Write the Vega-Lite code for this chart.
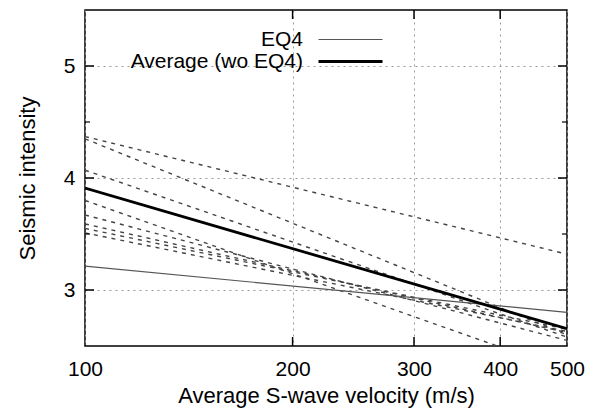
{
  "$schema": "https://vega.github.io/schema/vega-lite/v6.json",
  "autosize": {"type": "none"},
  "width": 482,
  "height": 336,
  "padding": {"left": 85, "top": 10, "right": 31, "bottom": 67},
  "background": "white",
  "config": {
    "font": "Liberation Sans",
    "view": {"stroke": "#000", "strokeWidth": 1.5},
    "axis": {
      "labelFont": "Liberation Sans",
      "titleFont": "Liberation Sans",
      "labelFontSize": 21,
      "titleFontSize": 22,
      "titleFontWeight": "normal",
      "labelColor": "#000",
      "titleColor": "#000",
      "domain": false,
      "ticks": false,
      "gridColor": "#999",
      "gridDash": [2, 4],
      "gridWidth": 1
    }
  },
  "datasets": {
    "dashed": [
      {"run": "D1", "vs": 100, "intensity": 4.37},
      {"run": "D1", "vs": 500, "intensity": 3.32},
      {"run": "D2", "vs": 100, "intensity": 4.35},
      {"run": "D2", "vs": 500, "intensity": 2.6},
      {"run": "D3", "vs": 100, "intensity": 4.07},
      {"run": "D3", "vs": 500, "intensity": 2.58},
      {"run": "D4", "vs": 100, "intensity": 3.8},
      {"run": "D4", "vs": 500, "intensity": 2.28},
      {"run": "D5", "vs": 100, "intensity": 3.67},
      {"run": "D5", "vs": 500, "intensity": 2.55},
      {"run": "D6", "vs": 100, "intensity": 3.59},
      {"run": "D6", "vs": 500, "intensity": 2.62},
      {"run": "D7", "vs": 100, "intensity": 3.55},
      {"run": "D7", "vs": 500, "intensity": 2.65},
      {"run": "D8", "vs": 100, "intensity": 3.51},
      {"run": "D8", "vs": 500, "intensity": 2.63}
    ],
    "main": [
      {"series": "EQ4", "vs": 100, "intensity": 3.214},
      {"series": "EQ4", "vs": 500, "intensity": 2.8},
      {"series": "Average (wo EQ4)", "vs": 100, "intensity": 3.91},
      {"series": "Average (wo EQ4)", "vs": 500, "intensity": 2.655}
    ],
    "xticks": [{"vs": 200}, {"vs": 300}, {"vs": 400}],
    "yticks": [{"intensity": 3}, {"intensity": 4}, {"intensity": 5}],
    "yminor": [{"intensity": 3.5}, {"intensity": 4.5}]
  },
  "layer": [
    {
      "data": {"name": "dashed"},
      "mark": {"type": "line", "clip": true, "strokeDash": [4, 5], "strokeWidth": 1.4, "color": "#444"},
      "encoding": {
        "x": {
          "field": "vs", "type": "quantitative",
          "scale": {"type": "log", "domain": [100, 500], "nice": false},
          "axis": {"values": [100, 200, 300, 400, 500], "format": "d", "grid": true, "title": "Average S-wave velocity (m/s)", "labelPadding": 12, "titlePadding": 6, "labelFlush": false}
        },
        "y": {
          "field": "intensity", "type": "quantitative",
          "scale": {"domain": [2.5, 5.5], "nice": false, "zero": false},
          "axis": {"values": [3, 4, 5], "format": "d", "grid": true, "title": "Seismic intensity", "labelPadding": 10, "titlePadding": 24}
        },
        "detail": {"field": "run"}
      }
    },
    {
      "data": {"name": "xticks"},
      "mark": {"type": "tick", "orient": "vertical", "clip": true, "color": "#000", "size": 18, "thickness": 1.5, "opacity": 1},
      "encoding": {
        "x": {"field": "vs", "type": "quantitative"},
        "y": {"datum": 2.5, "type": "quantitative"}
      }
    },
    {
      "data": {"name": "xticks"},
      "mark": {"type": "tick", "orient": "vertical", "clip": true, "color": "#000", "size": 18, "thickness": 1.5, "opacity": 1},
      "encoding": {
        "x": {"field": "vs", "type": "quantitative"},
        "y": {"datum": 5.5, "type": "quantitative"}
      }
    },
    {
      "data": {"name": "yticks"},
      "mark": {"type": "tick", "orient": "horizontal", "clip": true, "color": "#000", "size": 18, "thickness": 1.5, "opacity": 1},
      "encoding": {
        "y": {"field": "intensity", "type": "quantitative"},
        "x": {"datum": 100, "type": "quantitative"}
      }
    },
    {
      "data": {"name": "yticks"},
      "mark": {"type": "tick", "orient": "horizontal", "clip": true, "color": "#000", "size": 18, "thickness": 1.5, "opacity": 1},
      "encoding": {
        "y": {"field": "intensity", "type": "quantitative"},
        "x": {"datum": 500, "type": "quantitative"}
      }
    },
    {
      "data": {"name": "yminor"},
      "mark": {"type": "tick", "orient": "horizontal", "clip": true, "color": "#000", "size": 10, "thickness": 1.2, "opacity": 1},
      "encoding": {
        "y": {"field": "intensity", "type": "quantitative"},
        "x": {"datum": 100, "type": "quantitative"}
      }
    },
    {
      "data": {"name": "yminor"},
      "mark": {"type": "tick", "orient": "horizontal", "clip": true, "color": "#000", "size": 10, "thickness": 1.2, "opacity": 1},
      "encoding": {
        "y": {"field": "intensity", "type": "quantitative"},
        "x": {"datum": 500, "type": "quantitative"}
      }
    },
    {
      "data": {"name": "main"},
      "mark": {"type": "line", "clip": true},
      "encoding": {
        "x": {"field": "vs", "type": "quantitative"},
        "y": {"field": "intensity", "type": "quantitative"},
        "color": {
          "field": "series", "type": "nominal",
          "scale": {"domain": ["EQ4", "Average (wo EQ4)"], "range": ["#555555", "#000000"]},
          "legend": {
            "title": null, "orient": "none", "legendX": 255, "legendY": 19,
            "symbolType": "M-4,0H4", "symbolSize": 256, "labelLimit": 0,
            "labelFont": "Liberation Sans", "labelFontSize": 21, "labelColor": "#000",
            "labelAlign": "right", "labelOffset": -58, "rowPadding": 0
          }
        },
        "strokeWidth": {
          "field": "series", "type": "nominal",
          "scale": {"domain": ["EQ4", "Average (wo EQ4)"], "range": [1.2, 2.8]},
          "legend": {
            "title": null, "orient": "none", "legendX": 255, "legendY": 19,
            "symbolType": "M-4,0H4", "symbolSize": 256, "labelLimit": 0,
            "labelFont": "Liberation Sans", "labelFontSize": 21, "labelColor": "#000",
            "labelAlign": "right", "labelOffset": -58, "rowPadding": 0
          }
        }
      }
    }
  ]
}
